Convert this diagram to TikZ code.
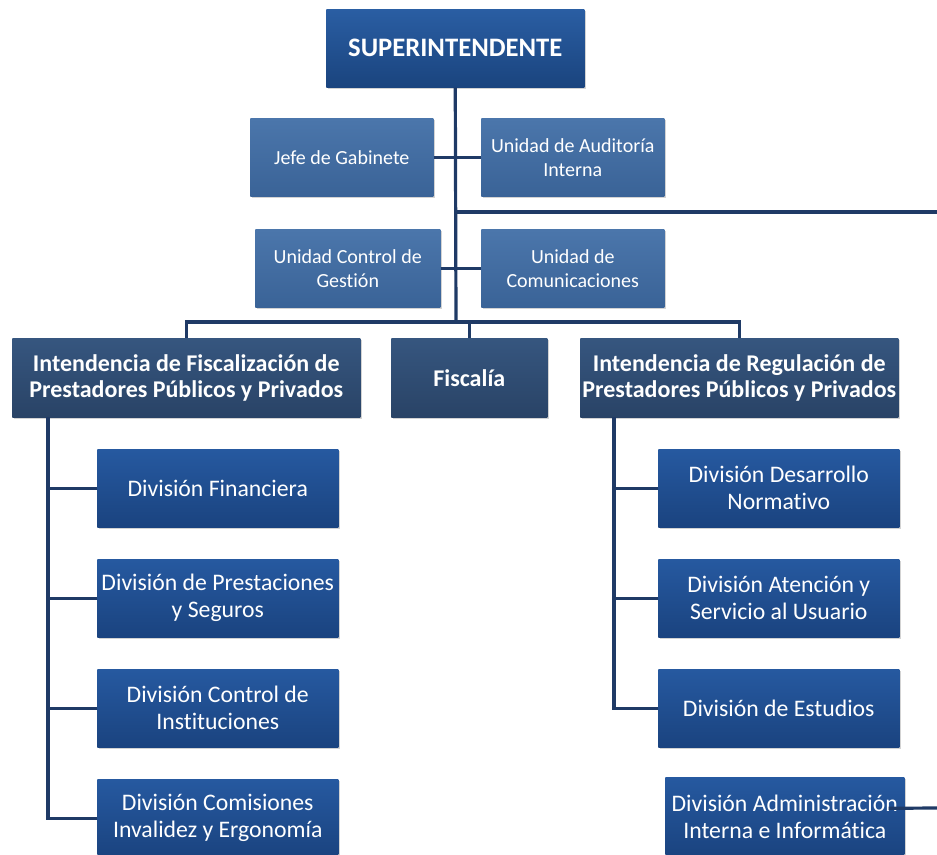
\documentclass[tikz,border=0pt]{standalone}
\usepackage{fontspec}
\setmainfont{Carlito}[Ligatures={NoCommon}]
\usetikzlibrary{shadows,calc}
\definecolor{linec}{HTML}{1F3A66}
\definecolor{supT}{HTML}{2A5EA3}\definecolor{supB}{HTML}{1A447E}
\definecolor{stfT}{HTML}{4B76AB}\definecolor{stfB}{HTML}{3A6397}
\definecolor{intT}{HTML}{36567F}\definecolor{intB}{HTML}{294366}
\definecolor{divT}{HTML}{2659A0}\definecolor{divB}{HTML}{1A437F}
\tikzset{
  base/.style={anchor=north west, align=center, text=white, inner sep=2pt,
    drop shadow={shadow xshift=1.5pt, shadow yshift=-1.5pt, opacity=0.35}},
  supbox/.style={base, top color=supT, bottom color=supB, minimum width=193.5pt, minimum height=58.5pt,
    font=\fontsize{20}{24}\selectfont\bfseries},
  stfbox/.style={base, top color=stfT, bottom color=stfB, minimum height=58.5pt,
    font=\fontsize{15}{18}\selectfont},
  intbox/.style={base, top color=intT, bottom color=intB, minimum height=59.25pt,
    font=\fontsize{18}{19.5}\selectfont\bfseries},
  divbox/.style={base, top color=divT, bottom color=divB, minimum width=180.75pt, minimum height=58.5pt,
    font=\fontsize{17.8}{20.25}\selectfont},
  conn/.style={draw=linec, line width=2.4pt}
}
\begin{document}
\begin{tikzpicture}[x=0.75pt,y=-0.75pt]
\useasboundingbox (0,0) rectangle (937,854);
\clip (0,0) rectangle (937,854);
% coordinates
\coordinate (bus) at (456,322);
\coordinate (rightend) at (937,212);
\coordinate (lvtop) at (48,417);
\coordinate (rvtop) at (614,417);
\coordinate (admR) at (937,808);
% nodes
\node[supbox] (sup) at (326,9) {SUPERINTENDENTE};
\node[stfbox, minimum width=137.25pt] (jefe) at (250,118) {Jefe de Gabinete};
\node[stfbox, minimum width=137.25pt] (aud) at (481,118) {Unidad de Auditoría\\Interna};
\node[stfbox, minimum width=138.75pt] (ctrl) at (255,229) {Unidad Control de\\Gestión};
\node[stfbox, minimum width=137.25pt] (com) at (481,229) {Unidad de\\Comunicaciones};
\node[intbox, minimum width=261pt] (intf) at (12,338) {Intendencia de Fiscalización de\\Prestadores Públicos y Privados};
\node[intbox, minimum width=117pt] (fisc) at (391,338) {Fiscalía};
\node[intbox, minimum width=238.5pt, inner sep=0pt] (intr) at (580,338) {Intendencia de Regulación de\\Prestadores Públicos y Privados};
\node[divbox] (d1) at (97,449) {División Financiera};
\node[divbox] (d2) at (97,559) {División de Prestaciones\\y Seguros};
\node[divbox] (d3) at (97,669) {División Control de\\Instituciones};
\node[divbox] (d4) at (97,779) {División Comisiones\\Invalidez y Ergonomía};
\node[divbox] (r1) at (658,449) {División Desarrollo\\Normativo};
\node[divbox] (r2) at (658,559) {División Atención y\\Servicio al Usuario};
\node[divbox] (r3) at (658,669) {División de Estudios};
\node[divbox, minimum width=179.25pt, minimum height=60pt] (adm) at (665,777) {División Administración\\Interna e Informática};
% connectors
\draw[conn] (sup.south) -- (bus);
\draw[conn] (sup.south |- rightend) -- (rightend);
\draw[conn] (jefe.east) -- (aud.west);
\draw[conn] (ctrl.east) -- (com.west);
\draw[conn] (intf.north) |- (bus) -| (intr.north);
\draw[conn] (fisc.north) -- (fisc.north |- bus);
\draw[conn] (lvtop) |- (d4.west);
\draw[conn] (d1.west) -- (d1.west -| lvtop);
\draw[conn] (d2.west) -- (d2.west -| lvtop);
\draw[conn] (d3.west) -- (d3.west -| lvtop);
\draw[conn] (rvtop) |- (r3.west);
\draw[conn] (r1.west) -- (r1.west -| rvtop);
\draw[conn] (r2.west) -- (r2.west -| rvtop);
\draw[conn] ([shift={(-16,-9)}]adm.east) -- (admR);
\end{tikzpicture}
\end{document}
